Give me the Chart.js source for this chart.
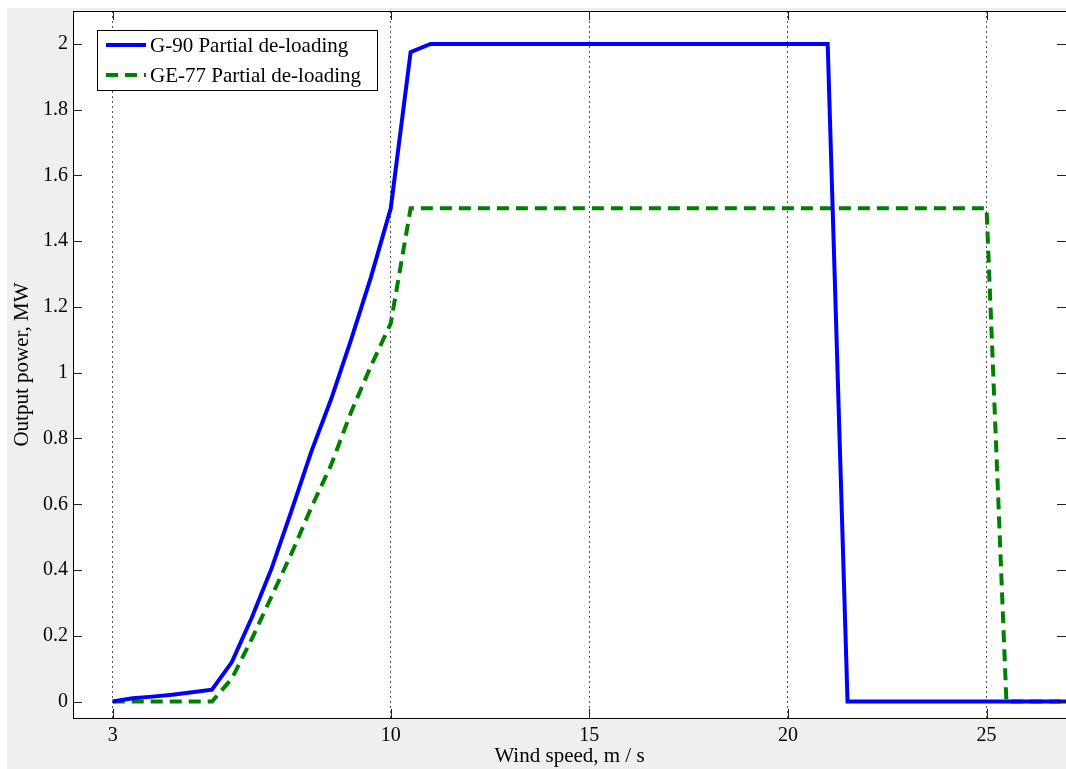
<!DOCTYPE html>
<html>
<head>
<meta charset="utf-8">
<script src="https://cdn.jsdelivr.net/npm/chart.js@4/dist/chart.umd.min.js"></script>
<style>
  body { margin: 0; background: #ffffff; }
  #box { position: absolute; left: 7px; top: 8px; width: 1059px; height: 761px; }
</style>
</head>
<body>
<div id="box"><canvas id="powerChart"></canvas></div>
<script>
// values
var g90Speed = [3, 3.5, 4, 4.5, 5, 5.5, 6, 6.5, 7, 7.5, 8, 8.5, 9, 9.5, 10, 10.5, 11, 21, 21.5, 27];
var g90Power = [0, 0.01, 0.015, 0.021, 0.028, 0.036, 0.12, 0.255, 0.405, 0.58, 0.76, 0.92, 1.1, 1.29, 1.5, 1.975, 2, 2, 0, 0];

var ge77Speed = [3, 5.5, 6, 6.5, 7, 7.5, 8, 8.5, 9, 9.5, 10, 10.5, 25, 25.5, 27];
var ge77Power = [0, 0, 0.07, 0.19, 0.32, 0.45, 0.59, 0.72, 0.88, 1.02, 1.15, 1.5, 1.5, 0, 0];

var xTickValues = [3, 10, 15, 20, 25];
var yTickValues = [0, 0.2, 0.4, 0.6, 0.8, 1, 1.2, 1.4, 1.6, 1.8, 2];

var seriesLabels = ['G-90 Partial de-loading', 'GE-77 Partial de-loading'];

const serif = '"Liberation Serif", "Times New Roman", serif';
Chart.defaults.font.family = serif;
Chart.defaults.font.size = 20;
Chart.defaults.color = '#000000';

function toPoints(xs, ys)
{
	let pts = [];
	for(let i = 0; i < xs.length; i++)
		pts.push({x: xs[i], y: ys[i]});
	return pts;
}

// grey figure background and white axes box
const backdropPlugin = {
	id: 'backdrop',
	beforeDraw: function(chart) {
		const ctx = chart.ctx;
		const a = chart.chartArea;
		ctx.save();
		ctx.fillStyle = '#efefef';
		ctx.fillRect(0, 0, chart.width, chart.height);
		ctx.fillStyle = '#ffffff';
		ctx.fillRect(a.left, a.top, a.right - a.left, a.bottom - a.top);
		ctx.restore();
	}
};

// box outline, inward tick marks on all four sides, legend
const framePlugin = {
	id: 'frame',
	afterDatasetsDraw: function(chart) {
		const ctx = chart.ctx;
		const a = chart.chartArea;
		const xs = chart.scales.x;
		const ys = chart.scales.y;
		const tl = 9;
		ctx.save();
		ctx.strokeStyle = '#222222';
		ctx.lineWidth = 1;
		ctx.setLineDash([]);
		ctx.beginPath();
		xs.ticks.forEach(function(t) {
			const px = Math.round(xs.getPixelForValue(t.value)) + 0.5;
			ctx.moveTo(px, a.bottom); ctx.lineTo(px, a.bottom - tl);
			ctx.moveTo(px, a.top); ctx.lineTo(px, a.top + tl);
		});
		ys.ticks.forEach(function(t) {
			const py = Math.round(ys.getPixelForValue(t.value)) + 0.5;
			ctx.moveTo(a.left, py); ctx.lineTo(a.left + tl, py);
			ctx.moveTo(a.right, py); ctx.lineTo(a.right - tl, py);
		});
		ctx.stroke();
		ctx.strokeStyle = '#000000';
		ctx.strokeRect(Math.round(a.left) + 0.5, Math.round(a.top) + 0.5, a.right - a.left, a.bottom - a.top);

		// legend
		const lx = a.left + 24, ly = a.top + 19, lw = 280, lh = 60;
		ctx.fillStyle = '#ffffff';
		ctx.fillRect(lx, ly, lw, lh);
		ctx.strokeRect(lx + 0.5, ly + 0.5, lw, lh);
		ctx.font = '21px ' + serif;
		ctx.textBaseline = 'middle';
		chart.data.datasets.forEach(function(ds, i) {
			const cy = ly + 15 + i * 30;
			ctx.strokeStyle = ds.borderColor;
			ctx.lineWidth = ds.borderWidth;
			ctx.setLineDash(ds.borderDash || []);
			ctx.beginPath();
			ctx.moveTo(lx + 9, cy); ctx.lineTo(lx + 49, cy);
			ctx.stroke();
			ctx.fillStyle = '#000000';
			ctx.fillText(ds.label, lx + 53, cy + 1);
		});
		ctx.restore();
	}
};

new Chart(document.getElementById('powerChart'), {
	type: 'line',
	data: {
		datasets: [
			{
				label: seriesLabels[0],
				data: toPoints(g90Speed, g90Power),
				borderColor: '#0000ff',
				borderWidth: 4,
				fill: false,
				tension: 0,
				pointRadius: 0
			},
			{
				label: seriesLabels[1],
				data: toPoints(ge77Speed, ge77Power),
				borderColor: '#008000',
				borderWidth: 4,
				borderDash: [12, 7],
				fill: false,
				tension: 0,
				pointRadius: 0
			}
		]
	},
	options: {
		responsive: true,
		maintainAspectRatio: false,
		animation: false,
		layout: { padding: { top: 3, right: 0, left: 0, bottom: 0 } },
		plugins: {
			legend: { display: false },
			tooltip: { enabled: false }
		},
		scales: {
			x: {
				type: 'linear',
				min: 2,
				max: 27,
				afterBuildTicks: function(scale) {
					scale.ticks = xTickValues.map(function(v) { return {value: v}; });
				},
				afterFit: function(scale) {
					scale.height = 51;
					scale.paddingLeft = 0;
					scale.paddingRight = 0;
				},
				ticks: {
					autoSkip: false,
					maxRotation: 0,
					padding: 6,
					font: { size: 20 },
					callback: function(v) { return String(v); }
				},
				grid: {
					display: true,
					drawTicks: false,
					color: '#555555',
					lineWidth: 1
				},
				border: { display: false, dash: [2, 3] },
				title: {
					display: true,
					text: 'Wind speed, m / s',
					font: { size: 21 },
					padding: { top: 0, bottom: 0 }
				}
			},
			y: {
				min: -0.05,
				max: 2.1,
				afterBuildTicks: function(scale) {
					scale.ticks = yTickValues.map(function(v) { return {value: v}; });
				},
				afterFit: function(scale) {
					scale.width = 66;
					scale.paddingTop = 0;
					scale.paddingBottom = 0;
				},
				ticks: {
					autoSkip: false,
					padding: 5,
					font: { size: 20 },
					callback: function(v) { return String(+v.toFixed(1)); }
				},
				grid: { display: false, drawTicks: false },
				border: { display: false },
				title: {
					display: true,
					text: 'Output power, MW',
					font: { size: 21 },
					padding: { top: 3, bottom: 0 }
				}
			}
		}
	},
	plugins: [backdropPlugin, framePlugin]
});
</script>
</body>
</html>
